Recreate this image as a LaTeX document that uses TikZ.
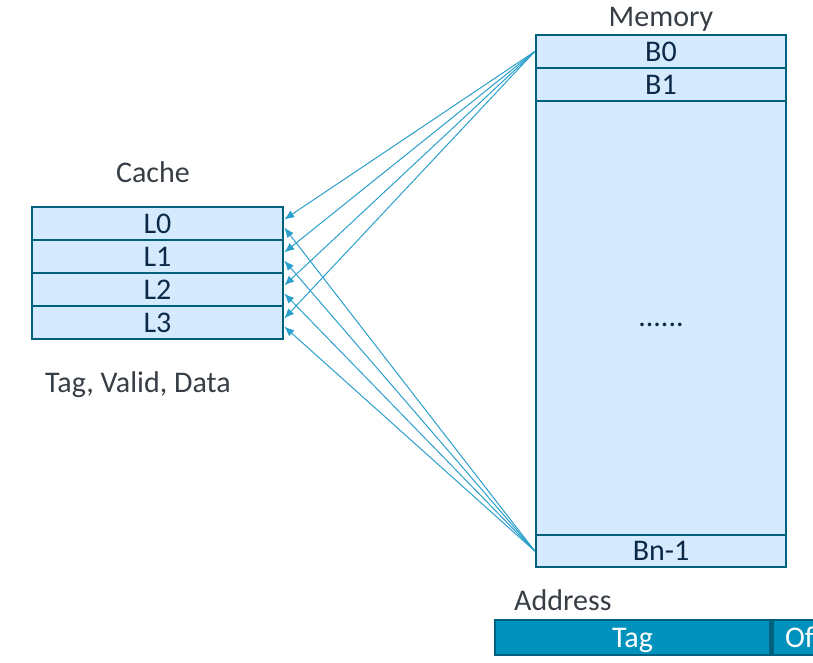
\documentclass[tikz,border=0pt]{standalone}
\usepackage{fontspec}
\setmainfont{Carlito}
\usetikzlibrary{arrows.meta}
\definecolor{boxfill}{HTML}{D5EBFD}
\definecolor{boxline}{HTML}{00617F}
\definecolor{boxtext}{HTML}{0C2A48}
\definecolor{labeltext}{HTML}{383E46}
\definecolor{linkcol}{HTML}{2A9FCB}
\definecolor{tagfill}{HTML}{0091BC}

\begin{document}
\begin{tikzpicture}[x=1pt,y=-1pt,
   every node/.style={font=\fontsize{30}{36}\selectfont},
   cell/.style={draw=boxline,fill=boxfill,line width=2.5pt,text=boxtext,
      minimum width=251pt,minimum height=33pt,inner sep=0pt},
   title/.style={text=labeltext,inner sep=0pt,anchor=base},
   bar/.style={draw=boxline,fill=tagfill,line width=2.5pt,text=white,
      minimum height=35pt,inner sep=0pt,text depth=0pt},
   link/.style={draw=linkcol,line width=1pt,-{Latex[length=10pt,width=8pt]}}]
   \useasboundingbox (0,0) rectangle (813,662);
   % cache lines
   \begin{scope}[every node/.append style={cell}]
    \node (l0) at (157.5,223.5) {L0};
    \node (l1) at (157.5,256.5) {L1};
    \node (l2) at (157.5,289.5) {L2};
    \node (l3) at (157.5,322.5) {L3};
   \end{scope}
   % memory blocks
   \begin{scope}[every node/.append style={cell,minimum width=250pt}]
    \node (b0) at (661,51.5) {B0};
    \node (b1) at (661,84.5) {B1};
    \node[minimum height=434pt,text height=16pt,text depth=0pt] (bmid) at (661,318) {......};
    \node[minimum height=32pt] (bn) at (661,551) {Bn-1};
   \end{scope}
   \node[title] (cache) at (153,182) {Cache};
   \node[title,anchor=base west] (fields) at (45,392) {Tag, Valid, Data};
   \node[title] (memory) at (661,26) {Memory};
   \node[title,anchor=base west] (address) at (514,610) {Address};
   % address fields
   \node[bar,minimum width=275pt] (tag) at (632.5,637.5) {Tag};
   \node[bar,minimum width=54pt,anchor=west] (offset) at (tag.east) {Of};
   % mapping
   \draw[link] (b0.west) -- ([yshift=4pt]l0.east);
   \draw[link] (b0.west) -- ([yshift=4pt]l1.east);
   \draw[link] (b0.west) -- ([yshift=4pt]l2.east);
   \draw[link] (b0.west) -- ([yshift=4pt]l3.east);
   \draw[link] (bn.west) -- ([yshift=-4pt]l0.east);
   \draw[link] (bn.west) -- ([yshift=-4pt]l1.east);
   \draw[link] (bn.west) -- ([yshift=-4pt]l2.east);
   \draw[link] (bn.west) -- ([yshift=-4pt]l3.east);
\end{tikzpicture}
\end{document}
